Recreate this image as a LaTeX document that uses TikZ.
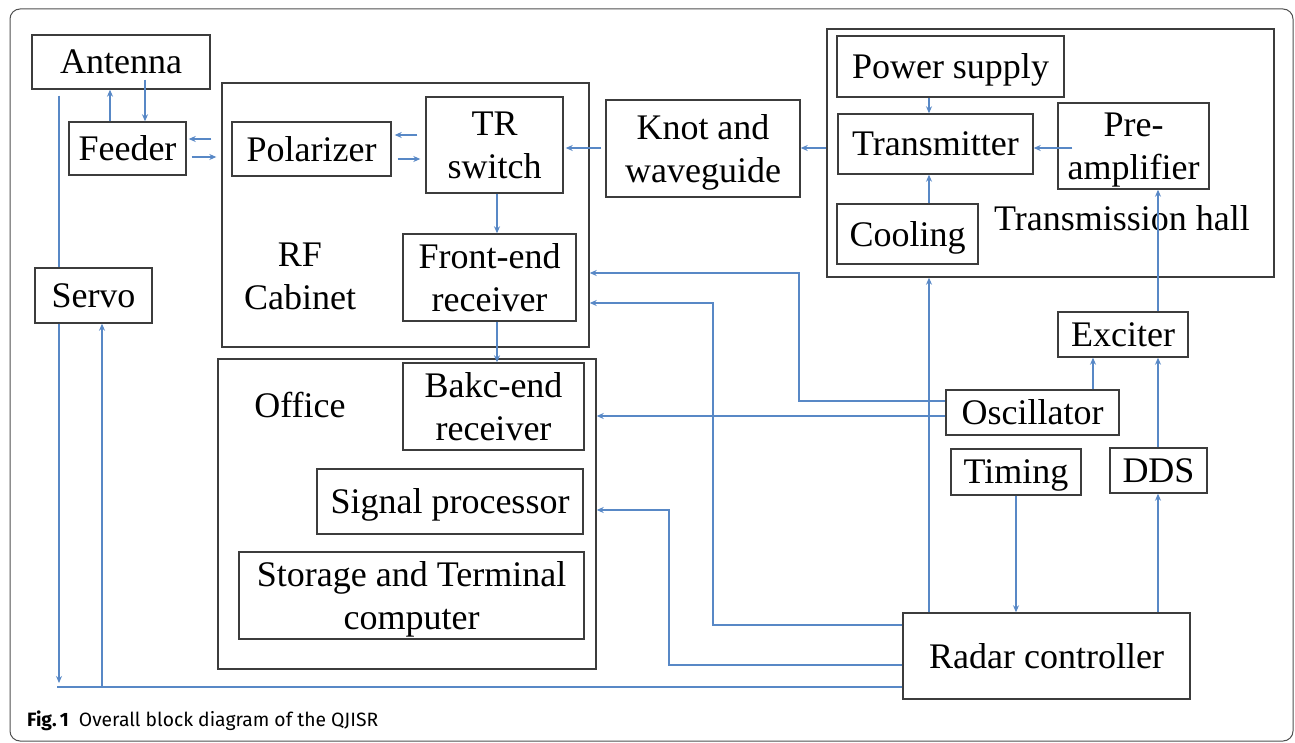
\documentclass[tikz,border=0pt]{standalone}
\usepackage{fontspec}
\setmainfont{Liberation Serif}
\newfontfamily\capfont{Fira Sans}
\usetikzlibrary{arrows.meta}
\definecolor{lnblue}{RGB}{88,136,198}
\definecolor{boxgray}{RGB}{60,60,60}
\definecolor{framegray}{RGB}{80,80,80}
\tikzset{
  blk/.style={draw=boxgray, line width=1.4pt, inner sep=0pt, align=center,
    font=\fontsize{36}{43}\selectfont, text depth=0pt},
  grp/.style={draw=boxgray, line width=1.4pt, inner sep=0pt},
  lbl/.style={inner sep=0pt, align=center, font=\fontsize{36}{43}\selectfont, anchor=base},
  arr/.style={draw=lnblue, line width=1.3pt, -{Stealth[length=7pt,width=6pt]}},
  ln/.style={draw=lnblue, line width=1.3pt},
}
\begin{document}
\begin{tikzpicture}[x=1pt,y=-1pt]
\useasboundingbox (0,0) rectangle (1295,743);
\draw[framegray, line width=1pt, rounded corners=10pt] (10,9) rectangle (1293,741);

% groups
\node[grp, minimum width=367pt, minimum height=264pt] (rf) at (405.5,215) {};
\node[grp, minimum width=447pt, minimum height=248pt] (hall) at (1050.5,153) {};
\node[grp, minimum width=378pt, minimum height=310pt] (office) at (407,514) {};

% blocks
\node[blk, minimum width=178pt, minimum height=54pt] (ant) at (121,62) {Antenna};
\node[blk, minimum width=117pt, minimum height=53pt] (feed) at (127.5,148.5) {Feeder};
\node[blk, minimum width=159pt, minimum height=54pt] (pol) at (311.5,149) {Polarizer};
\node[blk, minimum width=117pt, minimum height=55pt] (servo) at (93.5,295.5) {Servo};
\node[blk, minimum width=137pt, minimum height=96pt] (tr) at (494.5,145) {TR\\switch};
\node[blk, minimum width=194pt, minimum height=97pt] (knot) at (703,148.5) {Knot and\\waveguide};
\node[blk, minimum width=173pt, minimum height=87pt] (front) at (489.5,277.5) {Front-end\\receiver};
\node[blk, minimum width=227pt, minimum height=61pt] (power) at (950.5,66.5) {Power supply};
\node[blk, minimum width=195pt, minimum height=60pt] (trans) at (935.5,144) {Transmitter};
\node[blk, minimum width=151pt, minimum height=86pt] (pre) at (1133.5,146) {Pre-\\amplifier};
\node[blk, minimum width=141pt, minimum height=60pt] (cool) at (907.5,234) {Cooling};
\node[blk, minimum width=130pt, minimum height=45pt] (exc) at (1123,334.5) {Exciter};
\node[blk, minimum width=173pt, minimum height=45pt] (osc) at (1032.5,412.5) {Oscillator};
\node[blk, minimum width=130pt, minimum height=46pt] (tim) at (1016,472) {Timing};
\node[blk, minimum width=97pt, minimum height=45pt] (dds) at (1158.5,470.5) {DDS};
\node[blk, minimum width=287pt, minimum height=86pt] (rc) at (1046.5,656) {Radar controller};
\node[blk, minimum width=181pt, minimum height=87pt] (bakc) at (493.5,406.5) {Bakc-end\\receiver};
\node[blk, minimum width=266pt, minimum height=65pt] (sig) at (450,501.5) {Signal processor};
\node[blk, minimum width=345pt, minimum height=87pt] (stor) at (411.5,595.5) {Storage and Terminal\\computer};

% group labels
\node[lbl] (rflbl) at (300,267) {RF};
\node[lbl] (rflbl2) at (300,309) {Cabinet};
\node[lbl] (offlbl) at (300,417) {Office};
\node[lbl] (halllbl) at (1122,231) {Transmission hall};

% helper coordinates
\coordinate (v59) at (59,0);
\coordinate (v57) at (57,0);
\coordinate (v102) at (102,0);
\coordinate (v110) at (110,0);
\coordinate (v145) at (145,0);
\coordinate (v497) at (497,0);
\coordinate (v669) at (669,0);
\coordinate (v713) at (713,0);
\coordinate (v799) at (799,0);
\coordinate (v929) at (929,0);
\coordinate (v1016) at (1016,0);
\coordinate (v1093) at (1093,0);
\coordinate (v1158) at (1158,0);
\coordinate (h135) at (0,135);
\coordinate (h139) at (0,139);
\coordinate (h148) at (0,148);
\coordinate (h157) at (0,157);
\coordinate (h159) at (0,159);
\coordinate (h273) at (0,273);
\coordinate (h303) at (0,303);
\coordinate (h401) at (0,401);
\coordinate (h416) at (0,416);
\coordinate (h510) at (0,510);
\coordinate (h625) at (0,625);
\coordinate (h665) at (0,665);
\coordinate (h683) at (0,683);
\coordinate (h687) at (0,687);

% connectors
\draw[arr] (feed.north -| v110) -- (ant.south -| v110);
\draw[arr, shorten <=-10pt] (ant.south -| v145) -- (feed.north -| v145);
\draw[arr, shorten <=10pt, shorten >=2pt] (rf.west |- h139) -- (feed.east |- h139);
\draw[arr, shorten <=5pt, shorten >=5pt] (feed.east |- h157) -- (rf.west |- h157);
\draw[arr, shorten <=8pt, shorten >=3pt] (tr.west |- h135) -- (pol.east |- h135);
\draw[arr, shorten <=6pt, shorten >=5pt] (pol.east |- h159) -- (tr.west |- h159);
\draw[arr, shorten <=4pt, shorten >=2pt] (knot.west |- h148) -- (tr.east |- h148);
\draw[arr] (hall.west |- h148) -- (knot.east |- h148);
\draw[arr] (tr.south -| v497) -- (front.north -| v497);
\draw[arr] (front.south -| v497) -- (bakc.north -| v497);
\draw[arr] (power.south -| v929) -- (trans.north -| v929);
\draw[arr] (cool.north -| v929) -- (trans.south -| v929);
\draw[arr, shorten <=-15pt] (pre.west |- h148) -- (trans.east |- h148);
\draw[arr] (exc.north -| v1158) -- (pre.south -| v1158);
\draw[arr] (rc.north -| v929) -- (hall.south -| v929);
\draw[arr] (osc.north -| v1093) -- (exc.south -| v1093);
\draw[arr] (dds.north -| v1158) -- (exc.south -| v1158);
\draw[arr] (rc.north -| v1158) -- (dds.south -| v1158);
\draw[arr] (tim.south -| v1016) -- (rc.north -| v1016);
\draw[arr] (osc.west |- h401) -- (v799 |- h401) -- (v799 |- h273) -- (rf.east |- h273);
\draw[arr] (osc.west |- h416) -- (office.east |- h416);
\draw[arr] (rc.west |- h625) -- (v713 |- h625) -- (v713 |- h303) -- (rf.east |- h303);
\draw[arr] (rc.west |- h665) -- (v669 |- h665) -- (v669 |- h510) -- (office.east |- h510);
\draw[ln] (rc.west |- h687) -- (v57 |- h687);
\draw[arr] (v102 |- h687) -- (servo.south -| v102);
\draw[arr] (servo.south -| v59) -- (v59 |- h683);
\draw[ln, shorten <=6pt] (ant.south -| v59) -- (servo.north -| v59);

% caption
\node[anchor=base west, inner sep=0pt, font=\capfont\fontsize{19.3}{23}\selectfont] (cap) at (27,726) {\textbf{Fig.\,1}\hspace{10pt}Overall block diagram of the QJISR};
\end{tikzpicture}
\end{document}
